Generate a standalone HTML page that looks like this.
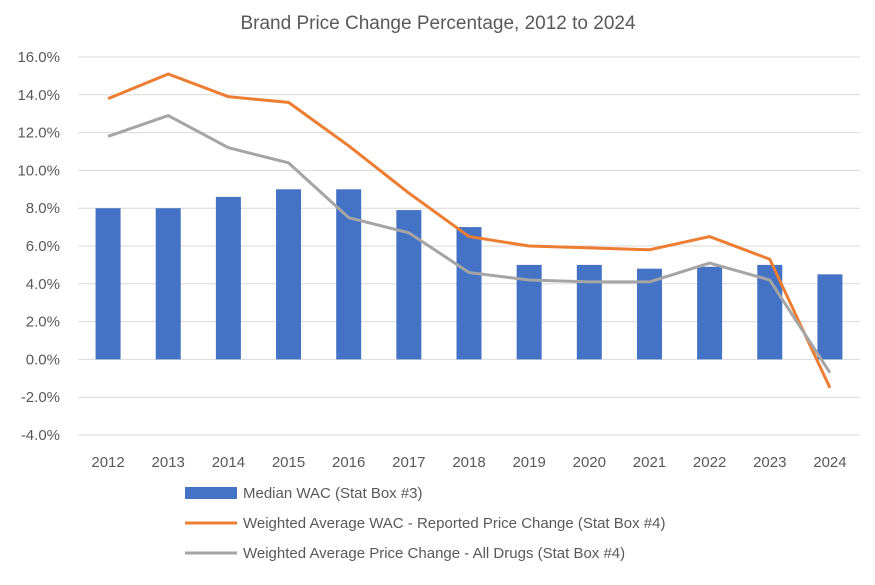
<!DOCTYPE html>
<html><head><meta charset="utf-8"><style>
body{margin:0;background:#fff;font-family:"Liberation Sans",Arial,sans-serif;}
svg text{font-family:"Liberation Sans",Arial,sans-serif;fill:#595959;}
</style></head><body>
<svg id="chart" width="875" height="580" xmlns="http://www.w3.org/2000/svg">
<text x="438" y="29" text-anchor="middle" font-size="19">Brand Price Change Percentage, 2012 to 2024</text>
<g id="grid"></g><g id="bars"></g><g id="lines"></g><g id="axes"></g>
<g>
<rect x="185" y="487" width="52" height="12" fill="#4472c4"/>
<text x="243" y="498" font-size="15">Median WAC (Stat Box #3)</text>
<line x1="185" y1="523" x2="237" y2="523" stroke="#ed7d31" stroke-width="3"/>
<text x="243" y="528" font-size="15">Weighted Average WAC - Reported Price Change (Stat Box #4)</text>
<line x1="185" y1="553" x2="237" y2="553" stroke="#a5a5a5" stroke-width="3"/>
<text x="243" y="558" font-size="15">Weighted Average Price Change - All Drugs (Stat Box #4)</text>
</g>
</svg>
<script>
const years=["2012","2013","2014","2015","2016","2017","2018","2019","2020","2021","2022","2023","2024"];
const medianWac=[8.0,8.0,8.6,9.0,9.0,7.9,7.0,5.0,5.0,4.8,4.9,5.0,4.5];
const weightedWac=[13.8,15.1,13.9,13.6,11.3,8.8,6.5,6.0,5.9,5.8,6.5,5.3,-1.5];
const allDrugs=[11.8,12.9,11.2,10.4,7.5,6.7,4.6,4.2,4.1,4.1,5.1,4.2,-0.7];
const yTicks=[-4,-2,0,2,4,6,8,10,12,14,16];
const NS="http://www.w3.org/2000/svg";
const x0=78,x1=860,yTop=57,yBot=435,ymin=-4,ymax=16;
const step=(x1-x0)/years.length;
const xs=i=>x0+step*(i+0.5);
const ys=v=>yBot-(v-ymin)/(ymax-ymin)*(yBot-yTop);
function mk(t,a,p){const e=document.createElementNS(NS,t);for(const k in a)e.setAttribute(k,a[k]);p.appendChild(e);return e;}
const grid=document.getElementById('grid'),axes=document.getElementById('axes');
yTicks.forEach(v=>{
 const l=mk('line',{x1:x0,x2:x1,y1:ys(v),y2:ys(v),stroke:'#d9d9d9','stroke-width':1},grid);
 
 
 const t=mk('text',{x:60,y:ys(v)+5,'text-anchor':'end','font-size':15},axes);
 t.textContent=v.toFixed(1)+'%';
 
 
});
years.forEach((y,i)=>{
 const t=mk('text',{x:xs(i),y:467,'text-anchor':'middle','font-size':15},axes);
 t.textContent=y;
 
 
});
const bars=document.getElementById('bars');
medianWac.forEach((v,i)=>{
 const top=Math.min(ys(v),ys(0)),h=Math.abs(ys(v)-ys(0));
 const r=mk('rect',{x:xs(i)-12.5,y:top,width:25,height:h,fill:'#4472c4'},bars);
 
 
});
const lines=document.getElementById('lines');
[[weightedWac,'#ed7d31','line-weighted-wac'],[allDrugs,'#a5a5a5','line-all-drugs']].forEach(([d,c,n])=>{
 const p=mk('polyline',{points:d.map((v,i)=>xs(i)+','+ys(v)).join(' '),fill:'none',stroke:c,'stroke-width':3,'stroke-linejoin':'round'},lines);
 
 
});
</script>
</body></html>
